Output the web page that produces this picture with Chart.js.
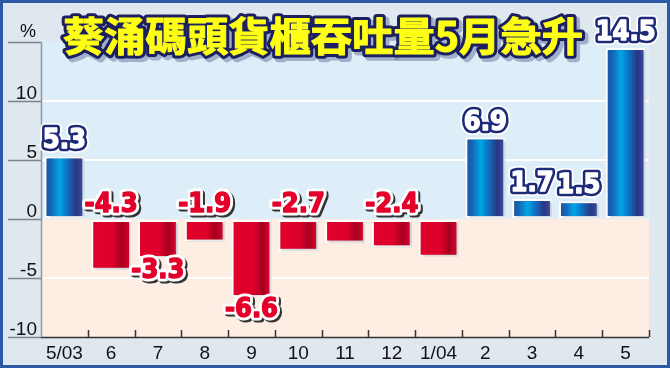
<!DOCTYPE html>
<html lang="zh-Hant">
<head>
<meta charset="UTF-8">
<title>葵涌碼頭貨櫃吞吐量5月急升</title>
<script src="https://cdn.jsdelivr.net/npm/chart.js"></script>
<style>
  html, body { margin: 0; padding: 0; background: #dfe7ef; }
  #wrap { width: 670px; height: 368px; }
</style>
</head>
<body>
<div id="wrap"><canvas id="portChart" width="670" height="368"></canvas></div>
<script>
// 數據
const months = ['5/03', '6', '7', '8', '9', '10', '11', '12', '1/04', '2', '3', '4', '5'];
const growth = [5.3, -4.3, -3.3, -1.9, -6.6, -2.7, -2.0, -2.4, -3.2, 6.9, 1.7, 1.5, 14.5];
const valueLabels = ['5.3', '-4.3', '-3.3', '-1.9', '-6.6', '-2.7', '', '-2.4', '', '6.9', '1.7', '1.5', '14.5'];
const labelSide = ['top', 'zero', 'bottom', 'zero', 'bottom', 'zero', '', 'zero', '', 'top', 'top', 'top', 'top'];
const yTicks = [-10, -5, 0, 5, 10];
const titleText = '葵涌碼頭貨櫃吞吐量5月急升';

const labelFont = 'bold 27px "Liberation Sans Narrow", "DejaVu Sans Condensed", sans-serif';

function barGradient(context) {
    const chart = context.chart;
    if (!chart.chartArea || !chart.scales.x) return growth[context.dataIndex] >= 0 ? '#1a6cc0' : '#e0002a';
    const xs = chart.scales.x;
    const xc = xs.getPixelForValue(context.dataIndex);
    const w = (xs.right - xs.left) / months.length * 0.85;
    const g = chart.ctx.createLinearGradient(xc - w / 2, 0, xc + w / 2, 0);
    if (growth[context.dataIndex] >= 0) {
        g.addColorStop(0, '#1f4d9e');
        g.addColorStop(0.18, '#1468b8');
        g.addColorStop(0.38, '#00a6e4');
        g.addColorStop(0.55, '#0b78c8');
        g.addColorStop(0.8, '#2b3582');
        g.addColorStop(1, '#3a56a8');
    } else {
        g.addColorStop(0, '#e2002b');
        g.addColorStop(0.55, '#dc002a');
        g.addColorStop(0.78, '#a5001f');
        g.addColorStop(0.92, '#d2002a');
        g.addColorStop(1, '#b80022');
    }
    return g;
}

function outlinedText(ctx, text, x, y, fill, stroke, strokeW, shadow) {
    ctx.lineJoin = 'round';
    if (shadow) {
        ctx.strokeStyle = shadow;
        ctx.lineWidth = strokeW;
        ctx.strokeText(text, x + 2, y + 2);
    }
    ctx.strokeStyle = stroke;
    ctx.lineWidth = strokeW;
    ctx.strokeText(text, x, y);
    ctx.fillStyle = fill;
    ctx.fillText(text, x, y);
    // 加粗字身
    ctx.strokeStyle = fill;
    ctx.lineWidth = 1.4;
    ctx.strokeText(text, x, y);
}

const decorPlugin = {
    id: 'decor',
    beforeDraw(chart) {
        const { ctx, chartArea: a, scales: { y } } = chart;
        const zero = y.getPixelForValue(0);
        ctx.save();
        ctx.fillStyle = '#dfe7ef';
        ctx.fillRect(0, 0, chart.width, chart.height);
        ctx.fillStyle = '#ddeef9';
        ctx.fillRect(a.left, a.top, a.right - a.left, zero - a.top);
        ctx.fillStyle = '#fdede3';
        ctx.fillRect(a.left, zero, a.right - a.left, a.bottom - zero);
        ctx.restore();
    },
    beforeDatasetsDraw(chart) {
        const ctx = chart.ctx;
        ctx.save();
        ctx.shadowColor = 'rgba(60,60,80,0.28)';
        ctx.shadowOffsetX = 2;
        ctx.shadowOffsetY = 1;
        ctx.shadowBlur = 2;
    },
    afterDatasetsDraw(chart) {
        chart.ctx.restore();
    },
    afterDraw(chart) {
        const { ctx, chartArea: a, scales: { x, y } } = chart;
        ctx.save();
        // y 軸刻度線與文字
        ctx.strokeStyle = '#7d848c';
        ctx.lineWidth = 1.5;
        ctx.font = '19px "Liberation Sans", Arial, sans-serif';
        ctx.fillStyle = '#111';
        ctx.textAlign = 'right';
        ctx.textBaseline = 'alphabetic';
        yTicks.forEach(v => {
            const py = Math.round(y.getPixelForValue(v)) + 0.5;
            ctx.beginPath();
            ctx.moveTo(8, py);
            ctx.lineTo(a.left, py);
            ctx.stroke();
            ctx.fillText(String(v), 37, py - 3);
        });
        // 單位 %
        const topY = Math.round(a.top) + 0.5;
        ctx.beginPath();
        ctx.moveTo(8, topY);
        ctx.lineTo(a.left, topY);
        ctx.stroke();
        ctx.font = '18px "Liberation Sans", Arial, sans-serif';
        ctx.fillText('%', 36, topY - 6);
        // 軸線
        ctx.strokeStyle = '#333';
        ctx.lineWidth = 1.5;
        ctx.beginPath();
        ctx.moveTo(a.left, a.bottom + 0.5);
        ctx.lineTo(a.right, a.bottom + 0.5);
        ctx.stroke();
        ctx.strokeStyle = '#8f969e';
        ctx.beginPath();
        ctx.moveTo(a.left + 0.5, a.top);
        ctx.lineTo(a.left + 0.5, a.bottom);
        ctx.stroke();
        ctx.strokeStyle = '#333';
        const step = (a.right - a.left) / months.length;
        for (let i = 1; i <= months.length; i++) {
            const px = Math.round(a.left + step * i) + 0.5;
            ctx.beginPath();
            ctx.moveTo(px, a.bottom - 7);
            ctx.lineTo(px, a.bottom);
            ctx.stroke();
        }
        // 數值標籤
        const meta = chart.getDatasetMeta(0);
        ctx.font = labelFont;
        ctx.textAlign = 'center';
        ctx.textBaseline = 'middle';
        const zero = y.getPixelForValue(0);
        meta.data.forEach((bar, i) => {
            const txt = valueLabels[i];
            if (!txt) return;
            let ly;
            if (labelSide[i] === 'top') ly = bar.y - 15;
            else if (labelSide[i] === 'bottom') ly = bar.y + 13;
            else ly = zero - 14;
            if (growth[i] >= 0) {
                outlinedText(ctx, txt, bar.x, ly, '#ffffff', '#ffffff', 10, null);
                outlinedText(ctx, txt, bar.x, ly, '#ffffff', '#1d2a78', 6.5, null);
            } else {
                outlinedText(ctx, txt, bar.x, ly, '#e3002b', '#ffffff', 7, '#333333');
            }
        });
        // 標題
        ctx.font = 'bold 40px "Noto Sans CJK TC", "Noto Sans CJK SC", sans-serif';
        const tw = ctx.measureText(titleText).width;
        const sx = 520 / tw;
        ctx.translate(323, 36);
        ctx.scale(sx, 1);
        ctx.textAlign = 'center';
        ctx.lineJoin = 'round';
        ctx.strokeStyle = 'rgba(120,135,170,0.6)';
        ctx.lineWidth = 8;
        ctx.strokeText(titleText, 3, 3);
        ctx.strokeStyle = '#1c2060';
        ctx.lineWidth = 7;
        ctx.strokeText(titleText, 0, 0);
        ctx.fillStyle = '#ffff14';
        ctx.fillText(titleText, 0, 0);
        ctx.strokeStyle = '#ffff14';
        ctx.lineWidth = 1;
        ctx.strokeText(titleText, 0, 0);
        ctx.restore();
        // 外框
        ctx.save();
        ctx.strokeStyle = '#2c5aa6';
        ctx.lineWidth = 4;
        ctx.strokeRect(1, 1, chart.width - 2, chart.height - 2);
        ctx.restore();
    }
};

new Chart(document.getElementById('portChart'), {
    type: 'bar',
    data: {
        labels: months,
        datasets: [{
            data: growth,
            backgroundColor: barGradient,
            borderColor: '#ffffff',
            borderWidth: 2,
            borderSkipped: false,
            barPercentage: 0.85,
            categoryPercentage: 1
        }]
    },
    options: {
        responsive: false,
        devicePixelRatio: 1,
        animation: false,
        layout: { padding: { left: 41, right: 21, top: 42, bottom: 0 } },
        plugins: { legend: { display: false }, tooltip: { enabled: false }, title: { display: false } },
        scales: {
            x: {
                grid: { display: false, drawTicks: false },
                border: { display: false },
                ticks: {
                    font: { family: '"Liberation Sans", Arial, sans-serif', size: 19 },
                    color: '#111',
                    padding: 5,
                    maxRotation: 0,
                    autoSkip: false
                },
                afterFit: s => { s.height = 31; }
            },
            y: {
                min: -10,
                max: 15,
                ticks: { display: false, stepSize: 5 },
                border: { display: false },
                grid: {
                    drawTicks: false,
                    lineWidth: 2,
                    color: c => [5, 10, -5].includes(c.tick && c.tick.value) ? '#ffffff' : 'rgba(0,0,0,0)'
                },
                afterFit: s => { s.width = 0; }
            }
        }
    },
    plugins: [decorPlugin]
});
</script>
</body>
</html>
